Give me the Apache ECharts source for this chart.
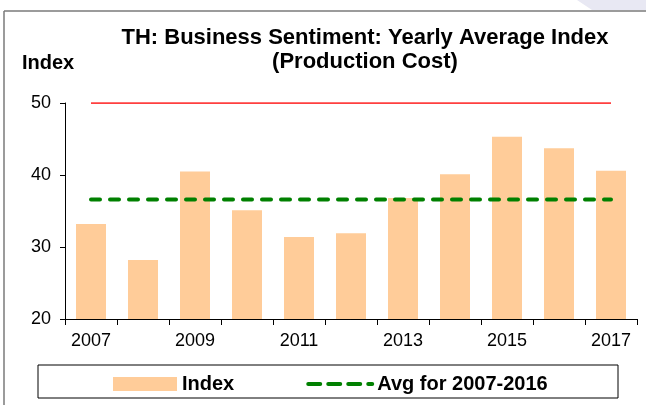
<!DOCTYPE html>
<html>
<head>
<meta charset="utf-8">
<script src="https://cdn.jsdelivr.net/npm/echarts@6/dist/echarts.min.js"></script>
<style>
  html, body { margin: 0; padding: 0; background: #fff; }
  #chart { width: 646px; height: 405px; }
</style>
</head>
<body>
<div id="chart"></div>
<script>
// data
var years = ['2007', '2008', '2009', '2010', '2011', '2012', '2013', '2014', '2015', '2016', '2017'];
var indexValues = [33.2, 28.2, 40.5, 35.1, 31.4, 31.9, 36.8, 40.1, 45.3, 43.7, 40.6];
var avgValues = [36.6, 36.6, 36.6, 36.6, 36.6, 36.6, 36.6, 36.6, 36.6, 36.6, 36.6];
var thresholdValues = [50, 50, 50, 50, 50, 50, 50, 50, 50, 50, 50];

var font = 'Liberation Sans, Arial, sans-serif';
var chart = echarts.init(document.getElementById('chart'));

var option = {
    animation: false,
    title: {
        text: 'TH: Business Sentiment: Yearly Average Index\n(Production Cost)',
        left: 360,
        top: 21,
        textAlign: 'center',
        textStyle: { fontFamily: font, fontSize: 22, fontWeight: 'bold', color: '#000', lineHeight: 24 }
    },
    graphic: [
        { type: 'polygon', shape: { points: [[577, 0], [646, 0], [646, 10], [592, 10]] },
          style: { fill: '#e8e8f3' }, silent: true },
        { type: 'line', shape: { x1: 4, y1: 11, x2: 646, y2: 11 }, style: { stroke: '#7a7a7a', lineWidth: 1.5 } },
        { type: 'line', shape: { x1: 4, y1: 11, x2: 4, y2: 405 }, style: { stroke: '#7a7a7a', lineWidth: 1.5 } },
        { type: 'text', left: 22, top: 53,
          style: { text: 'Index', font: 'bold 20px ' + font, fill: '#000' } },
        { type: 'rect', shape: { x: 38, y: 365, width: 580, height: 33 },
          style: { fill: 'none', stroke: '#000', lineWidth: 1 }, z: 0 }
    ],
    legend: {
        data: [
            { name: 'Index', icon: 'rect' },
            { name: 'Avg for 2007-2016', itemStyle: { opacity: 0 },
              lineStyle: { width: 4, type: [12, 8], cap: 'round' } }
        ],
        left: 113,
        top: 374,
        padding: 0,
        itemGap: 72,
        itemWidth: 64,
        itemHeight: 14,
        textStyle: { fontFamily: font, fontSize: 20, fontWeight: 'bold', color: '#000' }
    },
    grid: { left: 65, right: 9, top: 103, bottom: 86 },
    xAxis: {
        type: 'category',
        data: years,
        axisLine: { lineStyle: { color: '#000', width: 1 } },
        axisTick: { show: true, interval: 0, length: 6, lineStyle: { color: '#000' } },
        axisLabel: { interval: 1, margin: 13, fontFamily: font, fontSize: 18, color: '#000' }
    },
    yAxis: {
        type: 'value',
        min: 20,
        max: 50,
        interval: 10,
        splitLine: { show: false },
        axisLine: { show: true, lineStyle: { color: '#000', width: 1 } },
        axisTick: { show: true, length: 5, lineStyle: { color: '#000' } },
        axisLabel: { margin: 14, fontFamily: font, fontSize: 18, color: '#000' }
    },
    series: [
        {
            name: 'Index',
            type: 'bar',
            data: indexValues,
            barWidth: 30,
            itemStyle: { color: '#ffcc99' }
        },
        {
            name: 'Threshold',
            type: 'line',
            data: thresholdValues,
            symbol: 'none',
            lineStyle: { color: '#ff0000', width: 1.5 },
            itemStyle: { color: '#ff0000' },
            z: 3
        },
        {
            name: 'Avg for 2007-2016',
            type: 'line',
            data: avgValues,
            symbol: 'none',
            lineStyle: { color: '#008000', width: 4, type: [9, 10], cap: 'round' },
            itemStyle: { color: '#008000' },
            z: 4
        }
    ]
};
chart.setOption(option);
</script>
</body>
</html>
